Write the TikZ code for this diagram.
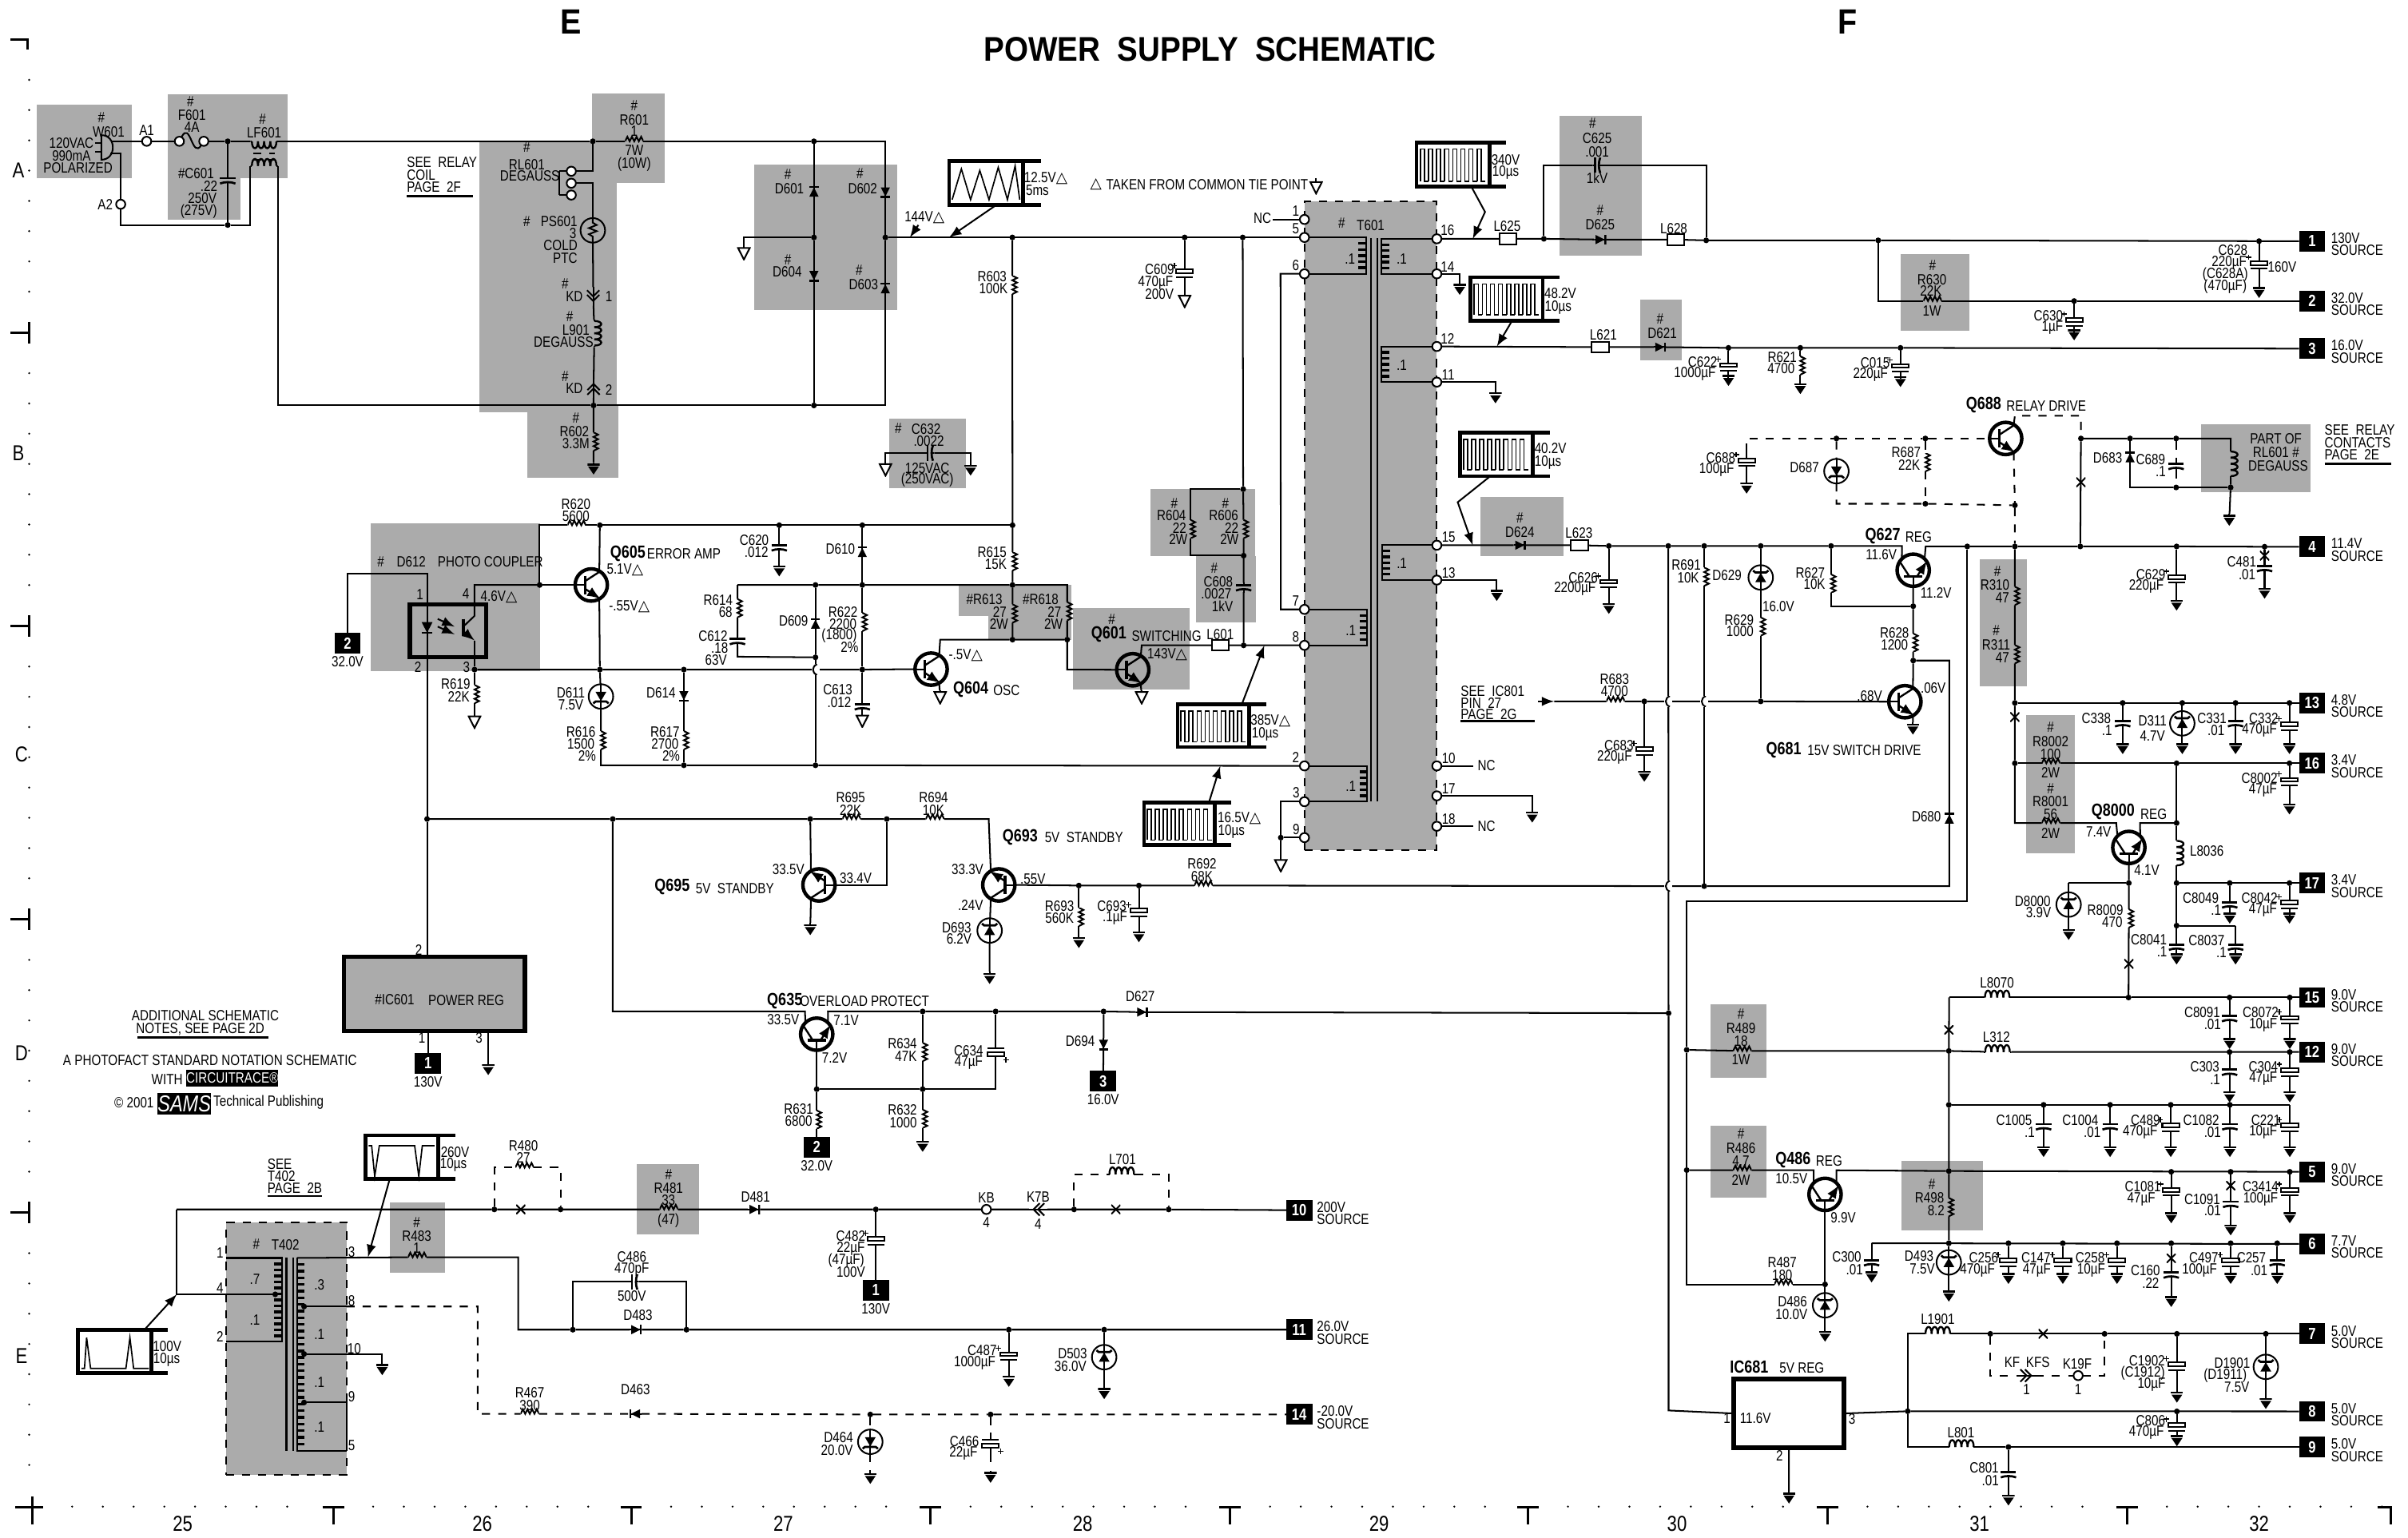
\documentclass[tikz,border=0pt]{standalone}
\usepackage{fontspec}
\setmainfont{Liberation Sans}[FakeStretch=0.82]
\newfontfamily\titlefont{Liberation Sans}[FakeStretch=0.9]
\newfontfamily\symfont{DejaVu Sans}
\newcommand{\tri}{{\symfont\char"25B3}}
\newcommand{\lblfont}{\fontsize{5.5}{6}\selectfont}
\newcommand{\glyph}[2]{\begin{scope}[shift={(path picture bounding box.center)},x={(#1:.02cm)},y={(#1-90:.02cm)}]#2\end{scope}}
\newcommand{\polglyph}{\draw (0,-7) -- (0,-2.5); \draw (-5.5,-2.5) -- (5.5,-2.5) -- (5.5,0) -- (-5.5,0) -- cycle; \draw (-5.5,2.5) -- (5.5,2.5); \draw (0,2.5) -- (0,7); \draw[line width=.4pt] (-8.5,-5) -- (-5,-5) (-6.75,-6.75) -- (-6.75,-3.25);}
\newcommand{\capglyph}{\draw (0,-6) -- (0,-1.5); \draw[line width=.8pt] (-5,-1.5) -- (5,-1.5); \draw[line width=.8pt] (-5,2) .. controls (-2,.8) and (2,.8) .. (5,2); \draw (0,1) -- (0,6);}
\newcommand{\coilglyph}{\draw (-9,0) -- (-8,0) (8,0) -- (9,0); \foreach \k in {-8,-4,0,4} \draw[line width=.7pt] (\k,0) .. controls (\k,-6) and (\k+4,-6) .. (\k+4,0);}
\tikzset{
	lbl/.style={font=\lblfont},
	lbll/.style={lbl, anchor=west},
	qname/.style={font=\fontsize{6.5}{7}\selectfont\bfseries},
	bigl/.style={font=\fontsize{8}{8}\selectfont},
	jdot/.style={circle, fill=black, minimum size=.75mm},
	pinc/.style={circle, draw, fill=white, minimum size=1.2mm},
	tagbox/.style={fill=black, text=white, font=\fontsize{6}{6}\selectfont\bfseries, minimum width=3.4mm, minimum height=2.7mm},
	resv/.style={minimum width=1.6mm, minimum height=2.4mm, path picture={\glyph{0}{\draw (0,-6) -- (3,-4.5) -- (0,-3) -- (3,-1.5) -- (0,0) -- (3,1.5) -- (0,3) -- (3,4.5) -- (0,6);}}},
	resh/.style={minimum width=2.4mm, minimum height=1.6mm, path picture={\glyph{0}{\draw (-6,0) -- (-4.5,-3) -- (-3,0) -- (-1.5,-3) -- (0,0) -- (1.5,-3) -- (3,0) -- (4.5,-3) -- (6,0);}}},
	capv/.style={minimum width=2.4mm, minimum height=1.2mm, path picture={\glyph{0}{\capglyph}}},
	caph/.style={minimum width=1.2mm, minimum height=2.4mm, path picture={\glyph{90}{\capglyph}}},
	polcap/.style={minimum width=3.6mm, minimum height=2.8mm, path picture={\glyph{#1}{\polglyph}}},
	polcap/.default=0,
	dio/.style={minimum size=1.6mm, path picture={\glyph{#1}{\fill (-3,-3) -- (3,-3) -- (0,3) -- cycle; \draw[line width=.8pt] (-3,3.3) -- (3,3.3); \draw (0,-4) -- (0,4);}}},
	zen/.style={circle, draw, minimum size=3.2mm, path picture={\glyph{#1}{\fill (-3.5,-3) -- (3.5,-3) -- (0,3) -- cycle; \draw[line width=.8pt] (-5,4.5) -- (-3.5,3.3) -- (3.5,3.3) -- (5,4.5); \draw (0,-8) -- (0,8);}}},
	qt/.style={circle, draw, line width=1.3pt, minimum size=4.2mm, path picture={\glyph{#1}{\draw[line width=.6pt] (-10.5,0) -- (-4,0); \draw[line width=1pt] (-4,-6) -- (-4,6); \draw[line width=.7pt] (-4,-2.5) -- (6,-9); \draw[line width=.7pt, -latex] (-4,2.5) -- (6,9);}}},
	gnd/.style={minimum size=1.6mm, path picture={\glyph{0}{\draw (0,-4) -- (0,-2.5); \draw[line width=.7pt] (-4,-2.5) -- (4,-2.5); \fill (-3.5,-1.2) -- (3.5,-1.2) -- (0,4) -- cycle;}}},
	cgnd/.style={minimum size=1.8mm, path picture={\glyph{0}{\draw (0,-4.5) -- (0,-3.5); \draw (-3.8,-3.5) -- (3.8,-3.5) -- (0,4) -- cycle;}}},
	coilh/.style={minimum width=3.6mm, minimum height=2.4mm, path picture={\glyph{#1}{\coilglyph}}},
	coilh/.default=0,
	coilv/.style={minimum width=2.4mm, minimum height=3.6mm, path picture={\glyph{-90}{\coilglyph}}},
	bead/.style={draw, fill=white, minimum width=2.2mm, minimum height=1.4mm, path picture={\fill ([xshift=-.35mm]path picture bounding box.north east) rectangle (path picture bounding box.south east);}},
	chev/.style={minimum size=2.4mm, path picture={\glyph{#1}{\draw (-4,-4) -- (0,0) -- (4,-4); \draw (-4,-1) -- (0,3) -- (4,-1); \draw (0,-6) -- (0,6);}}},
	xmark/.style={minimum size=1.2mm, path picture={\glyph{0}{\draw (-3,-3) -- (3,3) (-3,3) -- (3,-3);}}},
	hop/.style={fill=white, minimum width=1mm, minimum height=1.4mm, path picture={\glyph{0}{\draw (1,-3.5) .. controls (-2.5,-2) and (-2.5,2) .. (1,3.5);}}},
	wbox/.style={draw, line width=1.4pt},
	icbox/.style={draw, line width=1.6pt},
	xfbox/.style={draw, dashed, fill=black!33},
	sig/.style={-latex},
	grayzone/.style={fill=black!33}
}
% x y are the units of the sheet
\newcommand{\labels}[3][lbl]{\foreach \x/\y/\tx [count=\cnt] in {#3} \node (#2\cnt) at (\x,\y) [#1] {\tx};}
\newcommand{\shunt}[6]{\node (j#2) at (#3,#4) [jdot] {}; \node (#2) at (#3,#5) [#1] {}; \node (g#2) at (#3,#6) [gnd] {}; \draw (j#2) -- (#2) -- (g#2);}
\newcommand{\shuntc}[6]{\coordinate (j#2) at (#3,#4); \node (#2) at (#3,#5) [#1] {}; \node (g#2) at (#3,#6) [gnd] {}; \draw (j#2) -- (#2) -- (g#2);}
\newcommand{\wind}[6]{\coordinate (#1a) at (#2,#3); \coordinate (#1b) at (#2,#4); \foreach \k in {1,...,#6} \draw[line width=1pt] (#2,{#3+(#4-#3)*\k/(#6+1)}) -- ++(#5,0);}
\newcommand{\wavebox}[6]{\node (#1) at ({(#2+#4)/2},{(#3+#6)/2}) [wbox, minimum width={(#4-#2)*.2mm}, minimum height={(#6-#3)*.2mm}] {}; \draw[line width=1.4pt] (#4,#3) -- (#5,#3) (#4,#6) -- (#5,#6);}
\newcommand{\pulses}[5]{\foreach \k in {1,...,#5} \draw[line width=.5pt] ({#1+(#3-#1)*(\k-1)/#5},#4) -- ++(0,{#2-#4}) -- ++({.5*(#3-#1)/#5},0) -- ++(0,{#4-#2}) -- ++({.5*(#3-#1)/#5},0);}
\begin{document}
\begin{tikzpicture}[x=.02cm, y=-.02cm, line width=.6pt, every node/.append style={inner sep=0pt, outer sep=0pt}]
	\useasboundingbox (0,0) rectangle (1568,1001);
	\fill[white] (0,0) rectangle (1568,1001);
	% shaded zones
	\foreach \a/\b/\c/\d in {24/68/86/116, 109.5/61.6/187.5/116, 109.5/116/156.6/143, 385.5/61/433/119, 312/92/401.5/268.5, 343.5/264/402.5/311, 491/107/584/201.7, 579/272.4/628.7/318, 749/318.5/817.3/362, 778.7/362/818/405.3, 698.5/395.7/774.7/449.2, 624.5/381/697.5/401, 643.4/401/697.5/416.5, 241.3/340.5/351.8/437.1, 1015.6/75.4/1069/166.7, 1068/195.3/1095/234.6, 964/323.5/1018/362, 1237.5/165.6/1282.6/215.5, 1433/276/1504.6/320.6, 1289/364/1320/446.7, 1319.5/465.8/1351/555.6, 1113.7/654/1150.4/701.7, 1113.7/733/1150.4/780, 1238.2/755.7/1291/800.9, 253.8/782.9/289.7/828.5, 414.8/758.2/455.2/803.8}
		\fill[grayzone] (\a,\b) rectangle (\c,\d);
	\node (T601) at (892.5,342.35) [xfbox, minimum width=17.24mm, minimum height=84.46mm] {};
	\node (T402) at (186.3,878.1) [xfbox, minimum width=15.72mm, minimum height=32.96mm] {};
	\node (IC601) at (282.9,647.1) [icbox, fill=black!33, minimum width=23.56mm, minimum height=9.68mm] {};
	\node (IC681) at (1164.85,920.35) [icbox, minimum width=14.38mm, minimum height=8.94mm] {};
	\node (D612) at (291.7,410.8) [icbox, minimum width=9.96mm, minimum height=6.88mm] {};
	% sheet marks
	\draw[line width=.9pt] (7,25.5) -- (18,25.5) -- (18,32);
	\foreach \y in {216.5,407.5,598.5,789.5} \draw[line width=.9pt] (7,\y) -- (19,\y) (19,\y-7) -- (19,\y+7);
	\draw[line width=.9pt] (10,981.5) -- (28,981.5) (21,974.6) -- (21,992.6);
	\foreach \x in {217,411,606,801,995,1190,1385} \draw[line width=.9pt] (\x-7,981.5) -- (\x+7,981.5) (\x,981.5) -- (\x,992.6);
	\draw[line width=.9pt] (1548,981.5) -- (1557,981.5) -- (1557,992.6);
	\foreach \y in {25.5,216.5,407.5,598.5,789.5} \foreach \k in {0,...,7} \fill (19,\y+26.5+19.7*\k) circle (.4pt);
	\foreach \x in {21,217,411,606,801,995,1190,1385} \foreach \k in {0,...,7} \fill (\x+26+20*\k,981) circle (.4pt);
	% components
	\foreach \n/\x/\y in {R603/659.2/185.5, R604/775.3/344.5, R606/809.8/344.5, R615/659.3/365.5, R613/659.3/399.5, R618/694.9/398, R614/480.2/396, R622/561.5/405, R616/391.3/482, R617/445.3/482, R619/309/452, R631/531.8/729, R634/600.8/685, R691/1109.7/375.5, R629/1146.5/408, R627/1192.3/380, R628/1245.8/418.5, R310/1312/388, R311/1312/426, R8009/1386.2/598, R498/1269/786, R602/386.5/287.5, R687/1253.7/301}
		\node (\n) at (\x,\y) [resv] {};
	\foreach \n/\x/\y in {R620/375.5/342, R601/413/92, R630/1258.4/196, R8002/1335.5/497, R8001/1335.5/535.9, R489/1134.5/684.3, R486/1134.5/762, R487/1161.4/836.3, R695/554.5/533.3, R694/608.8/533.3, R692/783.7/576.6, R683/1052/456.7, R480/341.6/760.2, R481/435.5/787.5, R483/271.7/818.6, R467/345/920.6}
		\node (\n) at (\x,\y) [resh] {};
	\foreach \n/\x/\y in {L625/982/155.5, L628/1091/156, L621/1042/226, L623/1028.5/355, L601/794.6/420.2}
		\node (\n) at (\x,\y) [bead] {};
	\foreach \n/\x/\y in {L8070/1300.5/649.5, L312/1300.7/685, L1901/1261.8/868.5, L801/1277.2/942.2, L701/730.4/764.6, LFb/172/108}
		\node (\n) at (\x,\y) [coilh] {};
	\node (LFa) at (172,92) [coilh=180] {};
	\node (L901) at (387,217) [coilv] {};
	\node (L8036) at (1417.3,555.5) [coilv] {};
	\node (RLcoil) at (1452.5,302) [coilv] {};
	\foreach \n/\x/\y/\rr in {D601/530/125/180, D602/576.5/125/0, D604/530/179.4/0, D603/576.5/188/180, D625/1042/156/90, D621/1080.8/226/90, D624/989.7/355/90, D610/561.5/359.7/180, D609/531/406.4/180, D614/445.3/453/0, D627/743.5/659/90, D694/718.6/680/0, D680/1269.3/533.3/180, D683/1387/298/180, D481/491/787.5/90, D483/414/865.8/90, D463/413.8/920.6/-90}
		\node (\n) at (\x,\y) [dio=\rr] {};
	\foreach \n/\x/\y/\rr in {D611/391.3/453.5/0, D629/1146.5/376/180, D687/1195.8/306.8/0, D693/644.4/605.9/180, D464/566.7/938.8/0}
		\node (\n) at (\x,\y) [zen=\rr] {};
	\foreach \n/\x/\y/\rr in {Q605/385/380.9/0, Q604/606.3/435.7/0, Q601/737.6/436.1/0, Q688/1306/285.5/0, Q681/1240.4/456.9/0, Q695/533.3/576.2/180, Q693/650.4/576.2/180, Q635/531.8/673.4/90, Q627/1245.8/371.3/90, Q8000/1386.2/551.8/90, Q486/1188.4/777.7/90}
		\node (\n) at (\x,\y) [qt=\rr] {};
	\foreach \n/\x/\y in {C612/480.2/417.5, C608/809.8/382.5, C689/1417/303.5, C601/148.3/117.5, C613/561.5/460}
		\node (\n) at (\x,\y) [capv] {};
	\foreach \n/\x/\y in {C625/1040/107.6, C486/413/834.7, C632/605.5/295}
		\node (\n) at (\x,\y) [caph] {};
	\node (C609) at (771.4,178) [polcap] {};
	\node (C482) at (570.3,808) [polcap] {};
	\node (C688) at (1137.3,301) [polcap] {};
	\node (C634) at (648.3,685) [polcap=180] {};
	\node (C466) at (645,940) [polcap=180] {};
	\node (PS601) at (386,150) [circle, draw, minimum size=3.2mm, path picture={\glyph{0}{\draw (0,-8) -- (0,-5) -- (2.5,-3.5) -- (-2.5,-1.5) -- (2.5,.5) -- (-2.5,2.5) -- (0,4) -- (0,8);}}] {};
	\node (KD1) at (386.3,193) [chev=0] {};
	\node (KD2) at (386.5,253) [chev=180] {};
	\node (K7B) at (676,787.5) [chev=-90] {};
	\node (KFS) at (1319.6,895.7) [chev=90] {};
	\foreach \n/\x/\y in {gBr/484.4/165, g609/771.4/196, gC613/561.5/469.4, gR619/309/470, gQ604/612.2/454.1, gQ601/743.4/454.1, gC632a/576.6/305.7, gT601/834/563.5, gTie/857/122}
		\node (\n) at (\x,\y) [cgnd] {};
	\foreach \n/\x/\y in {gR602/386.5/305, gT14/950.5/188, gT11/973.8/258.6, gT13/974.6/387.3, gT17/997.7/531.6, gC632b/632/305.7, gQ681/1245.6/474.3, gQ695/527.6/604.9, gD693/644.4/636.7, gIC601/317.9/696, gC688/1137.3/317.4, gRL/1451.6/338.4, gT10/248.9/891.4, gIC681/1164.9/975, gD464/566.7/962.2, gC466/645/961.5}
		\node (\n) at (\x,\y) [gnd] {};
	\foreach \n/\x/\y in {tp1/849.4/142.9, tp5/849.4/154.6, tp6/849.4/178.3, tp7/849.4/396.8, tp8/849.4/420.2, tp2/849.4/498.7, tp3/849.4/522, tp9/849.4/545.4, tp16/935.6/155.5, tp14/935.6/178.3, tp12/935.6/225.6, tp11/935.6/248.8, tp15/935.6/355, tp13/935.6/377.7, tp10/935.6/498.7, tp17/935.6/518.2, tp18/935.6/538, pA1/95.5/92, pF1/116.8/92, pF2/132.7/92, pA2/78.6/133, pRa/372/111.5, pRb/372/119.3, pRc/372/127, pKB/642.3/787.5, pK19/1353.2/895.7}
		\node (\n) at (\x,\y) [pinc] {};
	\foreach \n/\x/\y in {jRL/386/92, jC601/148.3/92, jC601b/148.3/146.5, jBrT/530/92, jBrL/530/154.6, jBrR/576.5/154.6, jBrB/530/264, jKD2/386.5/264, jR603t/659.2/154.6, j609/771.4/154.6, j809/809.2/154.6, j809b/809.5/318.5, jR606b/809.8/361.8, jL601/809.8/420.2, j1005/1005.3/155.5, j1111/1111/156.5, jR630t/1223/156.5, jA/351.4/380.9, jB/390.6/342, jD610t/561.5/342, jR603b/659.3/342, jD609t/531/380.9, jD610b/561.5/380.9, jMid/659.3/380.9, jQ604c/659.3/416.5, jR618b/694.9/416.5, jD609b/531/428, jLine/561.5/436, jP3/309/436, jQ605e/390.6/436, jD614/445.3/436, jR617b/445.3/498.3, jD609e/531/498.3, jQ/278.1/533.3, jR/399/533.3, jS/527.6/533.3, jT/577.4/533.3, jR634t/600.8/658.6, jC634t/648.3/658.6, jD694/718.6/658.6, jIC1/1086.5/659.7, jQ635/531.8/709.2, jL/1086.3/355.5, jM/1109.7/355.5, jN/1146.5/355.5, jR627t/1192.3/355.5, jX/1281/355.8, jY/1312/355.8, jZ/1354.6/355.8, jRail/1109.7/577, jBase/1146.5/456.7, j627/1245.8/394.7, jR628b/1245.8/430.1, jE/1312/329, jR687t/1253.7/285.5, jD687t/1195.8/285.5, j328/1253.7/328, jF/1355/285.5, jD683/1387/285.5, jC689/1417/285.5, jC689b/1417/317.4, jH/1452.5/317.4, j13/1312/457.7, j16/1312/497, jL8a/1417.3/497, j8000/1417.3/535.9, j575/1417.3/575, jQ8/1386.2/575, jL80/1386/649.5, j684/1269/684.3, j719/1269/719.4, j762/1269/762.5, jR489/1098.3/683.6, jR486/1098.3/761.9, jK1/1296/868.5, jK2/1370.4/868.5, jIC3/1242.2/918.9, jR480a/321.9/787.5, jR480b/365/787.5, jC482/570.3/787.5, jL701a/699.4/787.5, jL701b/761/787.5, jC486a/373/865.8, jC486b/447/865.8, jT4/179.2/842.8, jT8/198/850.7, jT10/198/881.6, jT9/198/913.2, jD464/566.7/921, jC466/645/921, j834/834/545.4}
		\node (\n) at (\x,\y) [jdot] {};
	\foreach \n/\x/\y in {c1/576.5/92, c2/576.5/264, c3/351.4/342, c4/480.2/380.9, c5/694.9/380.9, c6/694.9/436, c7/612.2/416.5, c8/480.2/427.6, c9/391.3/498.3, c10/278.1/373.5, c11/643.8/533.3, c12/524.2/658.6, c13/539.1/658.6, c14/648.3/709.2, c15/1086.5/918.4, c16/1238.5/355.5, c17/1253.9/355.8, c18/1192.3/394.7, c19/1269.3/430.1, c20/1269.3/577, c21/1281/586.8, c22/1098.3/586.8, c23/1098.3/836.3, c24/1137.3/285.5, c25/1195.8/328, c26/1312/270.7, c27/1355/270.7, c28/1387/317.4, c29/1452.5/285.5, c30/1312/535.9, c31/1378/535.9, c32/1393.5/535.9, c33/1269.2/649.5, c34/1181/762, c35/1195.8/762, c36/1242.2/868.5, c37/1242.2/942.2, c38/1296/895.7, c39/1370.4/895.7, c40/115.1/787.5, c41/115.1/842.8, c42/321.9/760.2, c43/365/760.2, c44/699.4/764.6, c45/761/764.6, c46/337.4/818.6, c47/337.4/865.8, c48/373/834.7, c49/447/834.7, c50/225.6/850.7, c51/311/850.7, c52/311/920.6, c53/147/819.1, c54/147/873.7, c55/225.6/913.2, c56/225.6/944.5, c57/743.4/420.2, c58/833.8/178.3, c59/834/396.8, c60/834/522, c61/775.3/318.5, c62/775.3/361.8, c63/828.8/142.9, c64/959.2/498.7, c65/959.2/538, c66/73/92, c67/72/100, c68/309/380.9, c69/309/401, c70/309/417, c71/301.7/408, c72/301.7/411, c73/364/111.5, c74/364/127}
		\coordinate (\n) at (\x,\y);
	% shunt branches
	\foreach \n/\x/\rr/\p/\g in {C628/1471/157/172.5/190, C630/1350.6/196/209.5/217.6, C622/1125.5/226.5/239/247.3, C015/1237.5/226.5/239.5/248, C626/1047.6/355.5/380/395.7, C683/1070.7/456.7/489/505, C693/741.6/576.6/594/609.5, C629/1417.3/355.8/377/393.6, C332/1490.8/457.7/473/487, C8002/1490.8/497/509/526.3, C8042/1490.8/575/589/597.4, C8072/1491/649.5/664/679, C304/1491/685/698/713.8, C489/1413.5/719.4/734/749.4, C1081/1413.8/763/776/792.5, C3414/1491/763/776/792.5, C256/1307.8/809.5/822/832, C147/1343.2/809.5/822/832, C258/1378.5/809.5/822/832, C497/1452.5/809.5/822/832, C1902/1417.5/868.5/889.5/909.3, C806/1417.5/919/929/937.7, C487/656.9/865.8/883/899}
		{\shunt{polcap}{\n}{\x}{\rr}{\p}{\g}}
	\shuntc{polcap}{C221}{1491}{719.4}{734}{749.4}
	\foreach \n/\x/\rr/\p/\g in {C481/1474.6/356/370/385.8, C338/1382.2/457.7/471/487, C331/1455.7/457.7/471/487, C8049/1451.9/575/589/597.4, C8091/1451.8/649.5/663/679, C303/1451.8/685/698/713.8, C1005/1330.7/719.4/733.5/749.4, C1004/1374/719.4/733.5/749.4, C1082/1452/719.4/733.5/749.4, C1091/1452.5/763/784/800.4, C160/1413.8/809.5/830/847, C257/1482.8/809.5/822/832, C801/1307.8/942.2/960/976.3, C620/507.4/342/356.5/371.3, C8041/1417.3/602.7/616.5/624}
		{\shunt{capv}{\n}{\x}{\rr}{\p}{\g}}
	\shuntc{capv}{C300}{1218.7}{809.5}{822}{831}
	\shuntc{capv}{C8037}{1455.7}{602.7}{616.5}{624}
	\shunt{resv}{R621}{1172.3}{226.5}{238}{252.6}
	\shunt{resv}{R693}{702.5}{576.6}{597}{613.3}
	\shunt{resv}{R632}{600.8}{709.2}{728.5}{746}
	\shunt{zen=180}{D311}{1421}{457.7}{471}{487}
	\shunt{zen=180}{D503}{719}{865.8}{883.7}{907}
	\shunt{zen=180}{D1901}{1475.4}{868.5}{890}{913.4}
	\shunt{zen=180}{D486}{1188.4}{836.3}{849.9}{869.6}
	\shunt{zen=180}{D493}{1269}{809.5}{822}{843.5}
	\shuntc{zen=180}{D8000}{1347}{575}{589}{608}
	% source tags
	\foreach \n/\y/\v in {1/157/130V, 2/196/32.0V, 3/227/16.0V, 4/356/11.4V, 13/457.7/4.8V, 16/497/3.4V, 17/575/3.4V, 15/649.5/9.0V, 12/685/9.0V, 5/763/9.0V, 6/810/7.7V, 7/868.5/5.0V, 8/919/5.0V, 9/942.2/5.0V}
		{\node (tag\n) at (1505.5,\y) [tagbox] {\n}; \node (tv\n) at (1518,\y-2) [lbll] {\v}; \node (ts\n) at (1518,\y+6) [lbll] {SOURCE};}
	\foreach \n/\y/\v in {10/788/200V, 11/865.8/26.0V, 14/921/-20.0V}
		{\node (tag\n) at (846,\y) [tagbox] {\n}; \node (tv\n) at (857.6,\y-2) [lbll] {\v}; \node (ts\n) at (857.6,\y+6) [lbll] {SOURCE};}
	\node (tagO) at (226.3,419) [tagbox] {2};
	\node (tagIC) at (278.7,692.3) [tagbox] {1};
	\node (tagP2) at (531.8,747) [tagbox] {2};
	\node (tagP3) at (718.3,704) [tagbox] {3};
	\node (tagC) at (570.3,840) [tagbox] {1};
	% waveforms
	\wavebox{wv125}{618}{104.7}{666.2}{677.8}{133.3}
	\draw[line width=.5pt] (620,130) -- (626,110) -- (632,130) -- (638,111) -- (644,130) -- (650,109) -- (656,130) -- (661,108) -- (664,130);
	\wavebox{wv340}{922.3}{92.8}{969.8}{980.7}{121.4}
	\pulses{925}{97}{967}{118}{8}
	\wavebox{wv482}{957.5}{180.5}{1004.6}{1015.6}{208.7}
	\pulses{960}{185}{1002}{205}{8}
	\wavebox{wv402}{950.6}{281.7}{998}{1009}{310}
	\pulses{953}{286}{995}{306}{8}
	\wavebox{wv385}{766.8}{458.4}{813.2}{824.6}{486.4}
	\pulses{769}{463}{811}{483}{8}
	\wavebox{wv165}{745}{522.5}{791}{801.8}{550.3}
	\pulses{747}{527}{789}{547}{8}
	\wavebox{wv260}{237.9}{739.2}{285.3}{296.3}{767.6}
	\draw[line width=.5pt] (240,746) -- (242,746) -- (244,766) -- (247,746) -- (270,746) -- (272.7,766) -- (275,746) -- (283,746);
	\wavebox{wv100}{50.8}{866}{98.5}{109.5}{894}
	\draw[line width=.5pt] (53,891) -- (55,891) -- (56.4,871) -- (59,891) -- (82,891) -- (84.6,871) -- (87,891) -- (97,891);
	% windings
	\wind{wa}{889.5}{154.6}{178.3}{-5}{5}
	\wind{wb}{899.5}{155.5}{178.3}{5}{5}
	\wind{wc}{899.5}{225.6}{248.8}{5}{5}
	\wind{wd}{900}{355}{377.7}{5}{5}
	\wind{we}{890.2}{396.8}{420.2}{-5}{5}
	\wind{wf}{890.2}{498.7}{522}{-5}{5}
	\wind{wl}{183.5}{819.1}{873.7}{-5}{13}
	\wind{wr}{193.4}{819.1}{944.5}{5}{28}
	\draw (tp5) -- (waa) -- (wab) -- (tp6);
	\draw (tp16) -- (wba) -- (wbb) -- (tp14);
	\draw (tp12) -- (wca) -- (wcb) -- (tp11);
	\draw (tp15) -- (wda) -- (wdb) -- (tp13);
	\draw (tp7) -- (wea) -- (web) -- (tp8);
	\draw (tp2) -- (wfa) -- (wfb) -- (tp3);
	\draw (892.5,155) -- (892.5,522) (896.8,155) -- (896.8,522);
	\draw (186.5,819) -- (186.5,944.5) (190.8,819) -- (190.8,944.5);
	\draw (c53) -- (wla) -- (wlb) -- (c54);
	% input and bridge
	\draw (c66) -- (pA1) -- (pF1);
	\draw (pF1) .. controls (124,78) and (125,104) .. (pF2);
	\draw (pF2) -- (jC601) -- (LFa);
	\draw (jC601) -- (C601) -- (jC601b);
	\draw (c67) -| (pA2);
	\draw (pA2) |- (jC601b);
	\draw (jC601b) -| (LFb.west);
	\draw[dashed] (165,100) -- (179,100) (165,104) -- (179,104);
	\node (W601) at (68,96) [minimum width=2.4mm, minimum height=3.6mm, path picture={\glyph{0}{\draw (-2,-8) .. controls (8,-8) and (8,8) .. (-2,8) -- cycle; \draw (-6,-3) -- (-2,-3) (-6,3) -- (-2,3);}}] {};
	\draw (LFa) -- (jRL) -- (R601) -- (jBrT) -- (c1) -- (D602) -- (jBrR) -- (D603) -- (c2) -- (jBrB) -- (D604) -- (jBrL) -- (D601) -- (jBrT);
	\draw (LFb.east) |- (jKD2) -- (jBrB);
	\draw (jBrL) -| (gBr);
	\draw (pRa) -| (jRL);
	\draw (pRb) -| (PS601);
	\draw (c73) -- (pRa) (c74) -- (pRc) (c73) -- (c74);
	\draw (PS601) -- (KD1) -- (L901) -- (KD2) -- (jKD2) -- (R602) -- (gR602);
	\draw (jBrR) -- (tp5);
	\draw (jR603t) -- (R603) -- (jR603b) -- (R615) -- (jMid) -- (R613) -- (jQ604c);
	\draw (j609) -- (C609) -- (g609);
	\draw (j809) -- (j809b) -- (R606) -- (jR606b) -- (C608) -- (jL601);
	\draw (j809b) -- (c61) -- (R604) -- (c62) -- (jR606b);
	\draw (gC632a) |- (C632);
	\draw (C632) -| (gC632b);
	\draw (tp1) -- (c63);
	\draw (tp10) -- (c64);
	\draw (tp18) -- (c65);
	\draw (tp6) -- (c58) -- (c59) -- (tp7);
	\draw (tp3) -- (c60) -- (j834) -- (gT601);
	\draw (j834) -- (tp9);
	\draw (tp14) -| (gT14);
	\draw (tp11) -| (gT11);
	\draw (tp13) -| (gT13);
	\draw (tp17) -| (gT17);
	% secondaries
	\draw (tp16) -- (L625) -- (j1005) -- (D625) -- (L628) -- (j1111) -- (jR630t) -- (jC628) -- (tag1);
	\draw (j1005) |- (C625.west);
	\draw (C625.east) -| (j1111);
	\draw (jR630t) |- (R630.west);
	\draw (R630.east) -- (jC630) -- (tag2);
	\draw (tp12) -- (L621) -- (D621) -- (jC622) -- (jR621) -- (jC015) -- (tag3);
	\draw (tp15) -- (D624) -- (L623) -- (jC626) -- (jL) -- (jM) -- (jN) -- (jR627t) -- (c16) -- (Q627.135);
	\draw (Q627.45) -- (c17) -- (jX) -- (jY) -- (jZ) -- (jC629) -- (jC481) -- (tag4);
	\draw (jR627t) -- (R627) -- (c18) -- (j627);
	\draw (Q627.270) -- (j627) -- (R628) -- (jR628b) -- (Q681.60);
	\draw (Q681.-60) -- (gQ681);
	\draw (jR628b) -- (c19) -- (D680) -- (c20) -- (jRail) -- (R692) -- (jC693) -- (jR693) -- (Q693.0);
	\draw (jL) -- (jIC1) -- (c15) -- (IC681.west);
	\draw (jM) -- (R691) -- (jRail);
	\draw (jN) -- (D629) -- (R629) -- (jBase);
	\draw[sig] (1001.7,456.7) -- (1012,456.7);
	\draw (1012,456.7) -- (R683) -- (jC683) -- (jBase) -- (Q681.180);
	% relay drive
	\draw[dashed] (gC688) -- (C688) -- (c24) -- (jD687t) -- (jR687t) -- (Q688.180);
	\draw[dashed] (jD687t) -- (D687) -- (c25) -- (j328) -- (jE);
	\draw[dashed] (jR687t) -- (R687) -- (j328);
	\draw[dashed] (Q688.-60) -- (jE) -- (jY);
	\draw[dashed] (Q688.60) -- (c26) -- (c27) -- (jF);
	\draw (jF) -- (jZ);
	\draw (jF) -- (jD683) -- (jC689) -- (c29) -- (RLcoil) -- (jH) -- (gRL);
	\draw (jD683) -- (D683) -- (c28) -- (jC689b) -- (jH);
	\draw[dashed] (jC689) -- (C689) -- (jC689b);
	% lower right
	\draw (jY) -- (R310) -- (R311) -- (j13) -- (j16) -- (c30) -- (R8001) -- (c31) -- (Q8000.135);
	\draw (j13) -- (tag13);
	\draw (j16) -- (R8002) -- (jL8a) -- (tag16);
	\draw (Q8000.45) -- (c32) -- (j8000);
	\draw (jL8a) -- (j8000) -- (L8036) -- (j575) -- (jC8041) -- (jC8037);
	\draw (j575) -- (tag17);
	\draw (Q8000.270) -- (jQ8) -- (R8009) -- (jL80);
	\draw (jQ8) -- (jD8000);
	\draw (c33) -- (L8070) -- (jL80) -- (tag15);
	\draw (c33) -- (j684) -- (j719) -- (j762) -- (R498) -- (jD493);
	\draw (jX) -- (c21) -- (c22) -- (jR489) -- (jR486) -- (c23) -- (R487) -- (jD486);
	\draw (jR489) -- (R489) -- (j684) -- (L312) -- (tag12);
	\draw (j719) -- (jC221);
	\draw (jR486) -- (R486) -- (c34) -- (Q486.135);
	\draw (Q486.45) -- (c35) -- (j762) -- (tag5);
	\draw (Q486.270) -- (jD486);
	\draw (jC300) -- (tag6);
	\draw (jIC3) -- (c36) -- (L1901) -- (jK1) -- (jK2) -- (tag7);
	\draw[dashed] (jK1) -- (c38) -- (KFS) -- (pK19) -- (c39) -- (jK2);
	\draw (IC681.east) -- (jIC3) -- (tag8);
	\draw (jIC3) -- (c37) -- (L801) -- (jC801) -- (tag9);
	\draw (IC681.south) -- (gIC681);
	% error amp and oscillator
	\draw (Q605.180) -- (jA) -- (c3) -- (R620) -- (jB) -- (jR603b);
	\draw (jB) -- (Q605.60);
	\draw (Q605.-60) -- (jQ605e) -- (D611) -- (R616) -- (c9) -- (jR617b) -- (jD609e) -- (tp2);
	\draw (jP3) -- (jQ605e) -- (jD614) -- (jLine) -- (Q604.180);
	\draw (jD614) -- (D614) -- (R617) -- (jR617b);
	\draw (jD610t) -- (D610) -- (jD610b) -- (R622) -- (jLine) -- (C613) -- (gC613);
	\draw (c4) -- (jD609t) -- (jD610b) -- (jMid) -- (c5) -- (R618) -- (jR618b) -- (c6) -- (Q601.180);
	\draw (c4) -- (R614) -- (C612) -- (c8) -- (jD609b);
	\draw (jD609t) -- (D609) -- (jD609b) -- (jD609e);
	\draw (Q604.60) -- (c7) -- (jQ604c) -- (jR618b);
	\draw (Q604.-60) -- (gQ604);
	\draw (Q601.60) -- (c57) -- (L601) -- (jL601) -- (tp8);
	\draw (Q601.-60) -- (gQ601);
	% photo coupler
	\draw (tagO) |- (c10) -- (jQ) -- (jQ |- IC601.north);
	\fill (274.5,405) -- (281.7,405) -- (278.1,412) -- cycle;
	\draw (274.5,412) -- (281.7,412);
	\draw[sig] (285,403) -- (296,408);
	\draw[sig] (285,408) -- (296,413);
	\draw (jA) -- (c68) -- (c69) -- (c71);
	\draw[line width=1pt] (301.7,403) -- (301.7,414);
	\draw[sig] (c72) -- (c70);
	\draw (c70) -- (jP3) -- (R619) -- (gR619);
	% standby and overload
	\draw (jQ) -- (jR) -- (jS) -- (R695) -- (jT) -- (R694) -- (c11) -- (Q693.120);
	\draw (jS) -- (Q695.120);
	\draw (Q695.240) -- (gQ695);
	\draw (Q695.0) -| (jT);
	\draw (Q693.240) -- (D693) -- (gD693);
	\draw (jR) |- (c12) -- (Q635.135);
	\draw (Q635.45) -- (c13) -- (jR634t) -- (jC634t) -- (jD694) -- (D627) -- (jIC1);
	\draw (jR634t) -- (R634) -- (jR632);
	\draw (Q635.270) -- (jQ635) -- (R631) -- (tagP2);
	\draw (jQ635) -- (jR632) -- (c14) -- (C634) -- (jC634t);
	\draw (jD694) -- (D694) -- (tagP3);
	\draw (tagIC) -- (tagIC |- IC601.south);
	\draw (IC601.south -| gIC601) -- (gIC601);
	% lower left
	\draw (c40) -- (jR480a) -- (jR480b) -- (R481) -- (D481) -- (jC482) -- (pKB) -- (K7B) -- (jL701a) -- (jL701b) -- (tag10);
	\draw[dashed] (jR480a) -- (c42) -- (R480) -- (c43) -- (jR480b);
	\draw[dashed] (jL701a) -- (c44) -- (L701) -- (c45) -- (jL701b);
	\draw (jC482) -- (C482) -- (tagC);
	\draw (c40) -- (c41) -- (jT4);
	\draw (wra) -- (wrb) -- (c56);
	\draw (c53) -- (wla);
	\draw (wra) -- (R483) -- (c46) -- (c47) -- (jC486a) -- (D483) -- (jC486b) -- (jC487) -- (jD503) -- (tag11);
	\draw (jC486a) -- (c48) -- (C486) -- (c49) -- (jC486b);
	\draw (jT8) -- (c50);
	\draw[dashed] (c50) -- (c51) -- (c52) -- (R467) -- (D463) -- (jD464) -- (jC466) -- (tag14);
	\draw[dashed] (jD464) -- (D464) -- (gD464);
	\draw[dashed] (jC466) -- (C466) -- (gC466);
	\draw (jT10) -| (gT10);
	\draw (jT9) -- (c55) -- (c56);
	% waveform probes
	\coordinate (sa) at (649,133.3); \coordinate (ea) at (618,154.6);
	\draw[sig] (sa) -- (ea);
	\coordinate (sb) at (598,146.5); \coordinate (eb) at (592.5,154.6);
	\draw[sig] (sb) -- (eb);
	\coordinate (sc) at (958,121.4); \coordinate (mc) at (967,138); \coordinate (ec) at (959,155.5);
	\draw[sig] (sc) -- (mc) -- (ec);
	\coordinate (sd) at (984.7,208.7); \coordinate (ed) at (974.7,225.6);
	\draw[sig] (sd) -- (ed);
	\coordinate (se) at (970.5,310); \coordinate (me) at (949.2,327); \coordinate (ee) at (959,355);
	\draw[sig] (se) -- (me) -- (ee);
	\coordinate (sf) at (808.7,458.4); \coordinate (ef) at (823.3,420.2);
	\draw[sig] (sf) -- (ef);
	\coordinate (sg) at (787.2,522.5); \coordinate (eg) at (794.6,498.7);
	\draw[sig] (sg) -- (eg);
	\coordinate (sh) at (253.8,767.6); \coordinate (eh) at (239.6,818.6);
	\draw[sig] (sh) -- (eh);
	\coordinate (si) at (93.9,866); \coordinate (ei) at (115.1,842.8);
	\draw[sig] (si) -- (ei);
	% cross marks and hops on top
	\foreach \n/\x/\y in {xA/1312/466.9, xB/1386.2/627.6, xC/1269/670.6, xD/1330.4/868.5, xE/1355/314, xF/339.1/787.5, xG/726.6/787.5, xH/1474.6/361.8, xI/1452.5/772, xJ/1413.8/819.3}
		\node (\n) at (\x,\y) [xmark] {};
	\foreach \n/\x/\y in {hA/1086.3/456.7, hB/1086.3/577, hC/1109.7/456.7, hD/531/436}
		\node (\n) at (\x,\y) [hop] {};
	% underlines
	\coordinate (u1) at (265,127.6); \coordinate (u2) at (308,127.6); \draw[line width=.9pt] (u1) -- (u2);
	\coordinate (u3) at (1513.7,302); \coordinate (u4) at (1557,302); \draw[line width=.9pt] (u3) -- (u4);
	\coordinate (u5) at (951.2,469.6); \coordinate (u6) at (999.5,469.6); \draw[line width=.9pt] (u5) -- (u6);
	\coordinate (u7) at (89.6,675.5); \coordinate (u8) at (174.9,675.5); \draw[line width=.9pt] (u7) -- (u8);
	\coordinate (u9) at (174.2,778.7); \coordinate (u10) at (209.7,778.7); \draw (u9) -- (u10);
	\draw (857,116) -- (gTie);
	% headings
	\node (title) at (788,32) [font=\titlefont\fontsize{12.7}{13}\selectfont\bfseries] {POWER\ \ SUPPLY\ \ SCHEMATIC};
	\node (secE) at (372,14) [font=\titlefont\fontsize{13}{13}\selectfont\bfseries] {E};
	\node (secF) at (1203,14) [font=\titlefont\fontsize{13}{13}\selectfont\bfseries] {F};
	\labels[bigl]{row}{12/111/A, 12/295/B, 14/491/C, 14/686/D, 14/883/E, 119/992/25, 314/992/26, 510/992/27, 705/992/28, 898/992/29, 1092/992/30, 1289/992/31, 1471/992/32}
	\labels[qname]{qn}{408.8/360.3/Q605, 632.1/449.2/Q604, 722/413/Q601, 1291.7/264/Q688, 1161.5/488.5/Q681, 437.7/577.3/Q695, 664.3/545.4/Q693, 511/652/Q635, 1226/349/Q627, 1376/528.4/Q8000, 1167.6/755.5/Q486, 1139/890/IC681}
	% left half texts
	\labels{la}{66/76.4/\#, 70.7/86/W601, 46.5/93.4/120VAC, 46.5/101.5/990mA, 50.8/109.5/POLARIZED, 95.5/85/A1, 68.5/133/A2, 124/66/\#, 125/75/F601, 125/83/4A, 171/77.5/\#, 172/86.4/LF601, 127.7/113/\#C601, 136/121/.22, 131.7/129/250V, 129.4/137.6/(275V), 413/69/\#, 413/78/R601, 413/85.5/1, 413/98/7W, 413/107/(10W), 343/96/\#, 343/107/RL601, 345/114.5/DEGAUSS, 343/144/\#, 364/144/PS601, 373/152/3, 365/160/COLD, 368/168/PTC, 368/185/\#, 374/193/KD, 396.5/193/1, 371/206/\#, 375/215/L901, 367/222.5/DEGAUSS, 368/245/\#, 374/253/KD, 396.5/253.7/2, 375/272/\#, 374/281/R602, 375/289/3.3M, 513/113.6/\#, 514/123/D601, 560/113/\#, 561.7/122.7/D602, 513/169/\#, 512.6/177/D604, 559.4/176/\#, 562.3/185/D603, 602/141.8/144V\tri, 681/116/12.5V\tri, 675.5/124/5ms, 713.6/120/\tri, 786/120/{TAKEN FROM COMMON TIE POINT}, 646/180/R603, 646.9/188/100K, 755/175.6/C609, 752.5/184/470µF, 755/191.5/200V, 584.9/278.8/\#, 603/279.2/C632, 604.8/287/.0022, 603.8/305/125VAC, 603.8/312.7/(250VAC)}
	\labels{lb}{375/328.2/R620, 375/336.3/5600, 248/365.6/\#, 267.8/365.6/D612, 319.3/366/{PHOTO COUPLER}, 273.5/387.3/1, 303.3/386.8/4, 324.9/388.7/4.6V\tri, 272.1/434.4/2, 303.7/434.4/3, 226.3/431/32.0V, 296.7/445.6/R619, 298.7/453.7/22K, 445.3/360.7/{ERROR AMP}, 407/370.9/5.1V\tri, 409.8/395.1/-.55V\tri, 371.7/451/D611, 371.7/459/7.5V, 378.3/476.4/R616, 378.3/484.5/1500, 382.3/492.3/2\%, 430.4/451/D614, 433/476.4/R617, 433/484.5/2700, 437/492.3/2\%, 491.1/351.6/C620, 492.5/359.7/.012, 547.2/357.5/D610, 467.6/390.9/R614, 472.5/398.5/68, 464.3/414.2/C612, 468.6/421.9/.18, 466.2/429.7/63V, 516.7/404.2/D609, 548.9/398.5/R622, 548.9/406.4/2200, 546.5/414.2/(1800), 553.2/421.6/2\%, 545.5/449.2/C613, 546.5/457.3/.012, 646/359.7/R615, 648.4/367.5/15K, 641/390.4/\#R613, 651/398.3/27, 650.4/406.4/2W, 677.6/390.4/\#R618, 686.6/398.3/27, 686/406.4/2W, 628.8/426.5/-.5V\tri, 655.4/449.5/OSC, 724/403/\#, 759.6/414.2/SWITCHING, 760.1/426.1/143V\tri, 764.7/328/\#, 762.8/335.7/R604, 768/343.7/22, 767.3/351/2W, 798/328/\#, 796.8/335.7/R606, 802/343.7/22, 800.5/351/2W, 790.7/370/\#, 793.3/378.8/C608, 792/386.8/.0027, 796/394.7/1kV, 794.6/413/L601}
	\labels{lc}{553.9/519.5/R695, 553.9/527.4/22K, 607.9/519.5/R694, 607.9/527.4/10K, 513.4/566.2/33.5V, 557.2/572/33.4V, 478.5/578.7/{5V\ \ STANDBY}, 705.8/545.4/{5V\ \ STANDBY}, 630/566.2/33.3V, 672.6/572.4/.55V, 632/589.6/.24V, 622.9/603.8/D693, 624.5/611.2/6.2V, 689.9/590/R693, 689.9/598/560K, 724/590/C693, 726/598/.1µF, 782.7/562.4/R692, 782.7/570.5/68K, 563/652/{OVERLOAD PROTECT}, 510/664/33.5V, 551/664.3/7.1V, 543.4/688.6/7.2V, 520/722/R631, 520/730/6800, 531.8/759/32.0V, 587.6/679.7/R634, 589.9/688/47K, 630.7/684/C634, 630.7/692/47µF, 587.6/722.8/R632, 588.2/730.8/1000, 742.5/649/D627, 703.4/678/D694, 718.3/716/16.0V, 257/650.8/\#IC601, 303.6/651.3/{POWER REG}, 272.7/618.7/2, 274.7/676/1, 311.9/676/3, 278.7/704.4/130V, 133.7/661.4/{ADDITIONAL SCHEMATIC}, 130.4/670/{NOTES, SEE PAGE 2D}, 136.7/690.6/{A PHOTOFACT STANDARD NOTATION SCHEMATIC}, 108.8/703.1/WITH, 87.3/718/©\ 2001, 174.9/717.7/{Technical Publishing}}
	\node (ctrace) at (151.3,702) [fill=black, text=white, font=\lblfont, minimum width=10.76mm, minimum height=2.2mm] {CIRCUITRACE®};
	\node (sams) at (120,718.7) [fill=black, text=white, font=\fontsize{8.5}{8}\selectfont\itshape, minimum width=7mm, minimum height=2.8mm] {SAMS};
	\labels{ld}{296.3/750.3/260V, 295.3/758.7/10µs, 340.8/746.3/R480, 340.8/754/27, 435.3/764.8/\#, 435.3/773.7/R481, 435.3/781.6/33, 435.3/794.5/(47), 492/779.6/D481, 271.4/796/\#, 271.4/804.6/R483, 271.4/812.5/1, 108.8/876.5/100V, 108.5/885.5/10µs, 166.9/810/\#, 185.8/810.7/T402, 143.3/815.7/1, 143.3/838.9/4, 143.3/870.5/2, 229/815.4/3, 229/847/8, 230.6/878.4/10, 229/909.5/9, 229/941.3/5, 165.9/833/.7, 165.9/859.4/.1, 208/836.6/.3, 208/868.7/.1, 208/900/.1, 208/929.2/.1, 411.4/818.6/C486, 411.4/826.5/470pF, 411.4/843.8/500V, 415.4/856.4/D483, 345/906.8/R467, 345/914.9/390, 413.8/904.5/D463, 554/805/C482, 554/813/22µF, 551/820.8/(47µF), 554/828.5/100V, 570.3/852/130V, 642.3/780/KB, 642.3/795.9/4, 676/779.5/K7B, 676/797/4, 730.9/755/L701, 639.6/879.4/C487, 634.7/887.3/1000µF, 698.4/881.4/D503, 697/889.4/36.0V, 546/936/D464, 545/944.5/20.0V, 628/938.4/C466, 627.4/946.5/22µF}
	\labels[lbll]{le}{265/105.5/{SEE\ \ RELAY}, 265/114/COIL, 265/122/{PAGE\ \ 2F}, 1513.7/280/{SEE\ \ RELAY}, 1513.7/288.3/CONTACTS, 1513.7/296.2/{PAGE\ \ 2E}, 951.2/449.9/{SEE\ \ IC801}, 951.2/457.7/{PIN\ \ 27}, 951.2/465.4/{PAGE\ \ 2G}, 174.2/758.2/SEE, 174.2/766/T402, 174.2/773.7/{PAGE\ \ 2B}}
	% transformer T601 texts
	\labels{lf}{873.6/145.4/\#, 892.5/147/T601, 879/168.4/.1, 912.7/168.4/.1, 912.7/238/.1, 912.8/366.7/.1, 879.6/410.6/.1, 879.6/512/.1, 843.7/137.4/1, 822/142.2/NC, 843.7/149/5, 843.7/173/6, 942.6/150/16, 942.6/173.7/14, 942.6/220.8/12, 943/244/11, 943.3/349.5/15, 943.3/372.8/13, 843.7/391.5/7, 843.7/414.9/8, 843.7/493.4/2, 844/516.3/3, 844/540/9, 943.3/493.8/10, 943.3/513.6/17, 943.3/533.1/18, 968/498.3/NC, 968/538/NC, 980.4/104/340V, 980.4/112.5/10µs, 1016/191.2/48.2V, 1014.6/200/10µs, 1009.6/292/40.2V, 1008/301/10µs, 827.3/469.2/385V\tri, 823.8/478/10µs, 807/533/16.5V\tri, 801.8/541.5/10µs}
	% right half texts
	\labels{lg}{981.4/147.5/L625, 1037/80/\#, 1040/90/C625, 1040/99/.001, 1040/116/1kV, 1042/137/\#, 1042/146/D625, 1089.9/148.6/L628, 1258.4/173/\#, 1258/182/R630, 1257.4/189.6/22K, 1258/202.3/1W, 1454/162.8/C628, 1451.5/171/220µF, 1449/178.8/(C628A), 1449/186.4/(470µF), 1486/173.7/160V, 1333.8/205.3/C630, 1336.4/213.4/1µF, 1044/218/L621, 1081/207.6/\#, 1082.4/217/D621, 1108.7/235.7/C622, 1103.6/243.5/1000µF, 1160.5/232.5/R621, 1159.8/240/4700, 1221/236.3/C015, 1218/244/220µF, 1332.4/264.3/{RELAY DRIVE}, 1120.5/298.3/C688, 1117.8/306/100µF, 1175/304.6/D687, 1241.2/294.7/R687, 1243.2/303/22K, 1372.4/297.9/D683, 1400.4/299.3/C689, 1407/307/.1, 1482/285.5/{PART OF}, 1478.7/294.7/RL601, 1495/294.7/\#, 1483.4/303.6/DEGAUSS, 989.7/337/\#, 989.7/346.3/D624, 1028.2/347.3/L623, 1030.9/376/C626, 1025.5/383.6/2200µF, 1098/368/R691, 1099.3/376/10K, 1124.5/374.5/D629, 1132.5/403.6/R629, 1133/411.2/1000, 1051.3/442.5/R683, 1051.3/450.3/4700, 1054.2/485.3/C683, 1051.3/493/220µF, 1178.8/372.8/R627, 1181.5/380.2/10K, 1249.3/349.7/REG, 1225/361/11.6V, 1260.6/386.2/11.2V, 1158/394.7/16.0V, 1233.6/412/R628, 1233.6/419.7/1200, 1214/488.7/{15V SWITCH DRIVE}, 1217.4/453/.68V, 1258.8/447.8/.06V, 1254.4/531.6/D680}
	\labels{lh}{1300.6/372/\#, 1299/381/R310, 1303.9/389/47, 1299.8/410.6/\#, 1299.8/420/R311, 1303.9/428/47, 1335.2/473.7/\#, 1335.2/482.8/R8002, 1335.2/490.9/100, 1335.2/503/2W, 1335.2/513.6/\#, 1335.2/521.6/R8001, 1335.2/530/56, 1335.2/542.7/2W, 1402.4/530/REG, 1366.5/541.8/7.4V, 1397.9/566.7/4.1V, 1437/553.9/L8036, 1323.6/586.8/D8000, 1327.4/594.2/3.9V, 1370.9/592.5/R8009, 1375.4/600.6/470, 1399.2/611.9/C8041, 1407.8/619.7/.1, 1436.8/612.3/C8037, 1446.5/620/.1, 1433/584.7/C8049, 1443/592.5/.1, 1471.3/584.7/C8042, 1473.5/592.5/47µF, 1365/467.5/C338, 1372/475.4/.1, 1401.6/469.4/D311, 1401.6/479.2/4.7V, 1440.3/467.5/C331, 1443/475.4/.01, 1474/467.5/C332, 1471.3/475.4/470µF, 1471.3/506.6/C8002, 1473.5/514.6/47µF, 1400.5/373.9/C629, 1397.6/382/220µF, 1459.7/366/C481, 1463.2/373.9/.01, 1300.4/640/L8070, 1434/659/C8091, 1440.7/667.2/.01, 1472/659/C8072, 1473.7/667.2/10µF, 1300/675.2/L312}
	\labels{li}{1133.6/660.4/\#, 1133.6/669.5/R489, 1133.6/678/18, 1133.6/690/1W, 1435.7/694.5/C303, 1442.4/702.9/.1, 1473.7/694.5/C304, 1473.7/702.4/47µF, 1311.5/729.4/C1005, 1321.6/737.3/.1, 1354.6/729.4/C1004, 1362.3/737.3/.01, 1397/729.4/C489, 1393.6/737.3/470µF, 1433.3/729.4/C1082, 1440.7/737.3/.01, 1475.4/729.4/C221, 1473.7/737.3/10µF, 1133.6/738.5/\#, 1133.6/747.6/R486, 1133.6/755.7/4.7, 1133.6/768.2/2W, 1191/755.7/REG, 1166.5/767.5/10.5V, 1200.2/793/9.9V, 1160.5/822/R487, 1160.5/830.4/180, 1167.2/847.6/D486, 1166.5/855.6/10.0V, 1395.3/772.5/C1081, 1394.3/780.7/47µF, 1434/780.7/C1091, 1440.7/788.4/.01, 1472/772.5/C3414, 1472/780.7/100µF, 1258/771/\#, 1256.4/780/R498, 1260.7/788/8.2, 1202.5/818.6/C300, 1207.6/826.5/.01, 1249.6/818/D493, 1251.7/826/7.5V, 1291.7/819/C256, 1287.7/827.2/470µF, 1325.7/819/C147, 1326.3/827.2/47µF, 1361/819/C258, 1361.7/827.2/10µF, 1397/827.2/C160, 1400.4/835.6/.22, 1435/819/C497, 1432.3/827.2/100µF, 1466/819/C257, 1471/827.2/.01, 1261.8/858.7/L1901, 1310.2/887.3/KF, 1327/887.3/KFS, 1352.6/888.2/K19F, 1319.6/904.8/1, 1353.2/904.8/1, 1398/886/C1902, 1395.3/893.9/(C1912), 1401/901.4/10µF, 1453.5/887.8/D1901, 1449/895.7/(D1911), 1456.5/903/7.5V, 1173.3/890.5/{5V REG}, 1143/923.6/11.6V, 1124.5/923.6/1, 1205.9/924/3, 1158.8/948/2, 1400.4/925/C806, 1397.7/933/470µF, 1276.9/932.7/L801, 1292/955.9/C801, 1296/963.8/.01}
\end{tikzpicture}
\end{document}
